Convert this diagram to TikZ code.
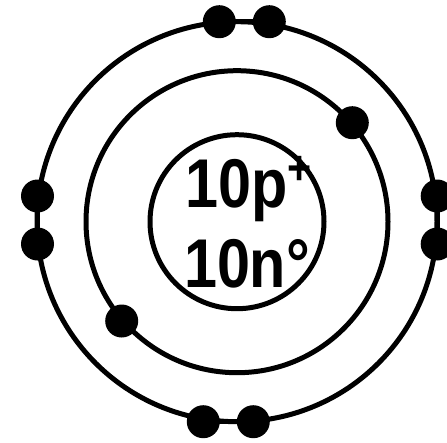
\documentclass[tikz,border=0pt]{standalone}
\usepackage{fontspec}
\setmainfont{Liberation Sans}
\begin{document}
\begin{tikzpicture}[x=1pt,y=-1pt,
  orbit/.style={draw=black,line width=5pt},
  electron/.style={circle,fill=black,inner sep=0pt,minimum size=33pt},
  bigtxt/.style={font=\fontsize{69}{69}\selectfont\bfseries,xscale=0.86,inner sep=0pt}]
\useasboundingbox (0,0) rectangle (447,442);
\coordinate (c) at (237,221.7);
% shells
\draw[orbit] (c) circle[radius=87];
\draw[orbit] (c) circle[radius=151];
\draw[orbit] (c) circle[radius=200];
% outer electron pairs
\node[electron] (t1) at (219.3,21.7) {};
\node[electron] (t2) at (269.3,21.7) {};
\node[electron] (b1) at (203.3,421.7) {};
\node[electron] (b2) at (253.3,421.7) {};
\node[electron] (l1) at (37.5,196) {};
\node[electron] (l2) at (37.5,244) {};
\node[electron] (r1) at (437.2,196) {};
\node[electron] (r2) at (437.2,244) {};
\draw[line width=5pt] (t1.center) -- (t2.center);
\draw[line width=5pt] (b1.center) -- (b2.center);
\draw[line width=5pt] (l1.center) -- (l2.center);
\draw[line width=5pt] (r1.center) -- (r2.center);
% inner shell electrons
\node[electron] (i1) at (352.3,122.7) {};
\node[electron] (i2) at (121.7,321) {};
% nucleus text
\node[bigtxt,anchor=base west] (p) at (185.4,207) {10p\raisebox{23pt}{\fontsize{48}{48}\selectfont +}};
\node[bigtxt,anchor=base] (n) at (247,287) {10n°};
\end{tikzpicture}
\end{document}
